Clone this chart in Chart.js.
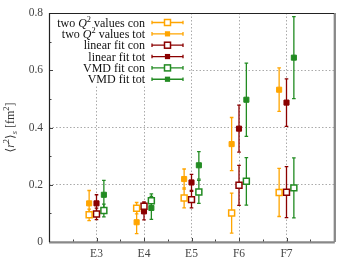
<!DOCTYPE html>
<html>
<head>
<meta charset="utf-8">
<script src="https://cdn.jsdelivr.net/npm/chart.js@4"></script>
<style>
html, body { margin: 0; padding: 0; background: #fff; }
</style>
</head>
<body>
<canvas id="c" width="355" height="266"></canvas>
<script>
var categories = ['E3', 'E4', 'E5', 'F6', 'F7'];
var yTicks = [0, 0.2, 0.4, 0.6, 0.8];

var twoQCon    = [0.095, 0.118, 0.154, 0.101, 0.173];
var twoQConErr = [0.020, 0.020, 0.035, 0.070, 0.084];
var twoQTot    = [0.135, 0.069, 0.220, 0.342, 0.532];
var twoQTotErr = [0.045, 0.040, 0.035, 0.093, 0.076];
var linCon     = [0.098, 0.125, 0.148, 0.198, 0.174];
var linConErr  = [0.020, 0.015, 0.029, 0.070, 0.089];
var linTot     = [0.135, 0.107, 0.208, 0.396, 0.487];
var linTotErr  = [0.030, 0.030, 0.028, 0.082, 0.083];
var vmdCon     = [0.110, 0.144, 0.175, 0.212, 0.189];
var vmdConErr  = [0.022, 0.024, 0.040, 0.083, 0.105];
var vmdTot     = [0.165, 0.119, 0.268, 0.497, 0.644];
var vmdTotErr  = [0.050, 0.040, 0.048, 0.128, 0.143];

var ORANGE = '#ffa500', DARKRED = '#8b0000', GREEN = '#228b22';
var SERIF = '"Liberation Serif", "DejaVu Serif", serif';

var series = [
  {name: 'two Q^2 values con', values: twoQCon, errs: twoQConErr, color: ORANGE,  open: true,  shift: -0.155},
  {name: 'two Q^2 values tot', values: twoQTot, errs: twoQTotErr, color: ORANGE,  open: false, shift: -0.155},
  {name: 'linear fit con',     values: linCon,  errs: linConErr,  color: DARKRED, open: true,  shift: 0},
  {name: 'linear fit tot',     values: linTot,  errs: linTotErr,  color: DARKRED, open: false, shift: 0},
  {name: 'VMD fit con',        values: vmdCon,  errs: vmdConErr,  color: GREEN,   open: true,  shift: 0.155},
  {name: 'VMD fit tot',        values: vmdTot,  errs: vmdTotErr,  color: GREEN,   open: false, shift: 0.155}
];

var datasets = series.map(function(s){
  return {
    label: s.name,
    data: s.values.map(function(v, i){ return {x: i + 1 + s.shift, y: v}; }),
    errors: s.errs,
    open: s.open,
    showLine: false,
    pointStyle: 'rect',
    pointRadius: s.open ? 4.2 : 3.6,
    borderWidth: s.open ? 1.5 : 1,
    borderColor: s.color,
    backgroundColor: s.open ? '#ffffff' : s.color
  };
});

// vertical error bars with small caps
var errorBars = {
  id: 'errorBars',
  beforeDatasetsDraw: function(chart){
    var ctx = chart.ctx, xs = chart.scales.x, ys = chart.scales.y;
    chart.data.datasets.forEach(function(ds){
      ctx.save();
      ctx.strokeStyle = ds.borderColor;
      ctx.lineWidth = 1.3;
      ds.data.forEach(function(p, i){
        var x = xs.getPixelForValue(p.x);
        var y1 = ys.getPixelForValue(p.y - ds.errors[i]);
        var y2 = ys.getPixelForValue(p.y + ds.errors[i]);
        ctx.beginPath();
        ctx.moveTo(x, y1); ctx.lineTo(x, y2);
        ctx.moveTo(x - 1.8, y1); ctx.lineTo(x + 1.8, y1);
        ctx.moveTo(x - 1.8, y2); ctx.lineTo(x + 1.8, y2);
        ctx.stroke();
      });
      ctx.restore();
    });
  }
};

// draw text pieces: [text, italic, 'sup'|'sub'|null]
var drawPieces = function(ctx, pieces, x, y, size, measureOnly){
  var w = 0;
  pieces.forEach(function(p){
    var fs = p[2] ? size * 0.7 : size;
    ctx.font = (p[1] ? 'italic ' : '') + fs + 'px ' + SERIF;
    var dy = p[2] == 'sup' ? -size * 0.38 : (p[2] == 'sub' ? size * 0.25 : 0);
    if(!measureOnly) ctx.fillText(p[0], x + w, y + dy);
    w += ctx.measureText(p[0]).width;
  });
  return w;
};

var namePieces = function(name){
  if(name.indexOf('Q^2') < 0) return [[name, false, null]];
  var parts = name.split('Q^2');
  return [[parts[0], false, null], ['Q', true, null], ['2', false, 'sup'], [parts[1], false, null]];
};

var decorations = {
  id: 'decorations',
  afterDraw: function(chart){
    var ctx = chart.ctx, a = chart.chartArea, xs = chart.scales.x, ys = chart.scales.y;
    ctx.save();

    // key box
    ctx.fillStyle = '#ffffff';
    ctx.fillRect(a.left + 1, a.top + 1, 137, 72);
    ctx.textBaseline = 'alphabetic';
    chart.data.datasets.forEach(function(ds, i){
      var yy = a.top + 9.5 + i * 11.35;
      var pieces = namePieces(ds.label);
      var w = drawPieces(ctx, pieces, 0, 0, 12, true);
      ctx.fillStyle = '#111';
      drawPieces(ctx, pieces, a.left + 96 - w, yy + 4, 12, false);
      var x1 = a.left + 103, x2 = a.left + 134, xm = (x1 + x2) / 2;
      ctx.strokeStyle = ds.borderColor;
      ctx.lineWidth = 1.3;
      ctx.beginPath();
      ctx.moveTo(x1, yy); ctx.lineTo(x2, yy);
      ctx.moveTo(x1, yy - 1.8); ctx.lineTo(x1, yy + 1.8);
      ctx.moveTo(x2, yy - 1.8); ctx.lineTo(x2, yy + 1.8);
      ctx.stroke();
      var h = ds.open ? 3 : 2.6;
      if(ds.open){
        ctx.fillStyle = '#fff';
        ctx.fillRect(xm - h, yy - h, 2 * h, 2 * h);
        ctx.lineWidth = 1.5;
        ctx.strokeRect(xm - h, yy - h, 2 * h, 2 * h);
      } else {
        ctx.fillStyle = ds.borderColor;
        ctx.fillRect(xm - h, yy - h, 2 * h, 2 * h);
      }
    });

    // minor ticks
    ctx.strokeStyle = '#444';
    ctx.lineWidth = 1;
    ctx.beginPath();
    for(var k = 1; k < 12; k++){
      var px = Math.round(xs.getPixelForValue(k / 2)) + 0.5;
      ctx.moveTo(px, a.bottom); ctx.lineTo(px, a.bottom - (k % 2 ? 2.5 : 4));
    }
    for(var j = 1; j < 8; j++){
      var py = Math.round(ys.getPixelForValue(j / 10)) + 0.5;
      ctx.moveTo(a.left, py); ctx.lineTo(a.left + (j % 2 ? 2.5 : 4), py);
    }
    ctx.stroke();

    // frame: thin dark top/left, heavier grey bottom/right
    ctx.strokeStyle = '#888';
    ctx.lineWidth = 2.3;
    ctx.beginPath();
    ctx.moveTo(a.left, a.bottom + 0.3); ctx.lineTo(a.right + 0.8, a.bottom + 0.3);
    ctx.moveTo(a.right + 0.8, a.bottom); ctx.lineTo(a.right + 0.8, a.top);
    ctx.stroke();
    ctx.strokeStyle = '#222';
    ctx.lineWidth = 1.2;
    ctx.beginPath();
    ctx.moveTo(a.right, a.top + 0.5); ctx.lineTo(a.left + 0.5, a.top + 0.5);
    ctx.lineTo(a.left + 0.5, a.bottom);
    ctx.stroke();

    // y title
    ctx.translate(10, (a.top + a.bottom) / 2);
    ctx.rotate(-Math.PI / 2);
    ctx.fillStyle = '#333';
    var title = [['\u27e8', false, null], ['r', true, null], ['2', false, 'sup'], ['\u27e9', false, null],
                 ['s', true, 'sub'], [' [fm', false, null], ['2', false, 'sup'], [']', false, null]];
    var tw = drawPieces(ctx, title, 0, 0, 12, true);
    drawPieces(ctx, title, -tw / 2, 4, 12, false);
    ctx.restore();
  }
};

new Chart(document.getElementById('c'), {
  type: 'scatter',
  data: {datasets: datasets},
  plugins: [errorBars, decorations],
  options: {
    responsive: false,
    animation: false,
    layout: {padding: {top: 13, right: 21, left: 0, bottom: 0}},
    plugins: {legend: {display: false}, tooltip: {enabled: false}},
    scales: {
      x: {
        type: 'linear', min: 0, max: 6,
        afterFit: function(s){ s.height = 24; },
        ticks: {
          stepSize: 1, padding: 5, color: '#444',
          font: {family: SERIF, size: 11.5},
          callback: function(v){ return categories[v - 1] || ''; }
        },
        grid: {
          drawTicks: false, lineWidth: 1,
          color: function(c){ return (c.tick && c.tick.value >= 1 && c.tick.value <= 5) ? '#aaa' : 'rgba(0,0,0,0)'; }
        },
        border: {display: false, dash: [1.5, 2]}
      },
      y: {
        min: 0, max: 0.8,
        afterFit: function(s){ s.width = 49; },
        afterBuildTicks: function(s){ s.ticks = yTicks.map(function(v){ return {value: v}; }); },
        ticks: {
          padding: 6, color: '#444',
          font: {family: SERIF, size: 11.5},
          callback: function(v){ return String(v); }
        },
        grid: {
          drawTicks: false, lineWidth: 1,
          color: function(c){ return (c.tick && c.tick.value > 0.01 && c.tick.value < 0.79) ? '#aaa' : 'rgba(0,0,0,0)'; }
        },
        border: {display: false, dash: [1.5, 2]}
      }
    }
  }
});
</script>
</body>
</html>
